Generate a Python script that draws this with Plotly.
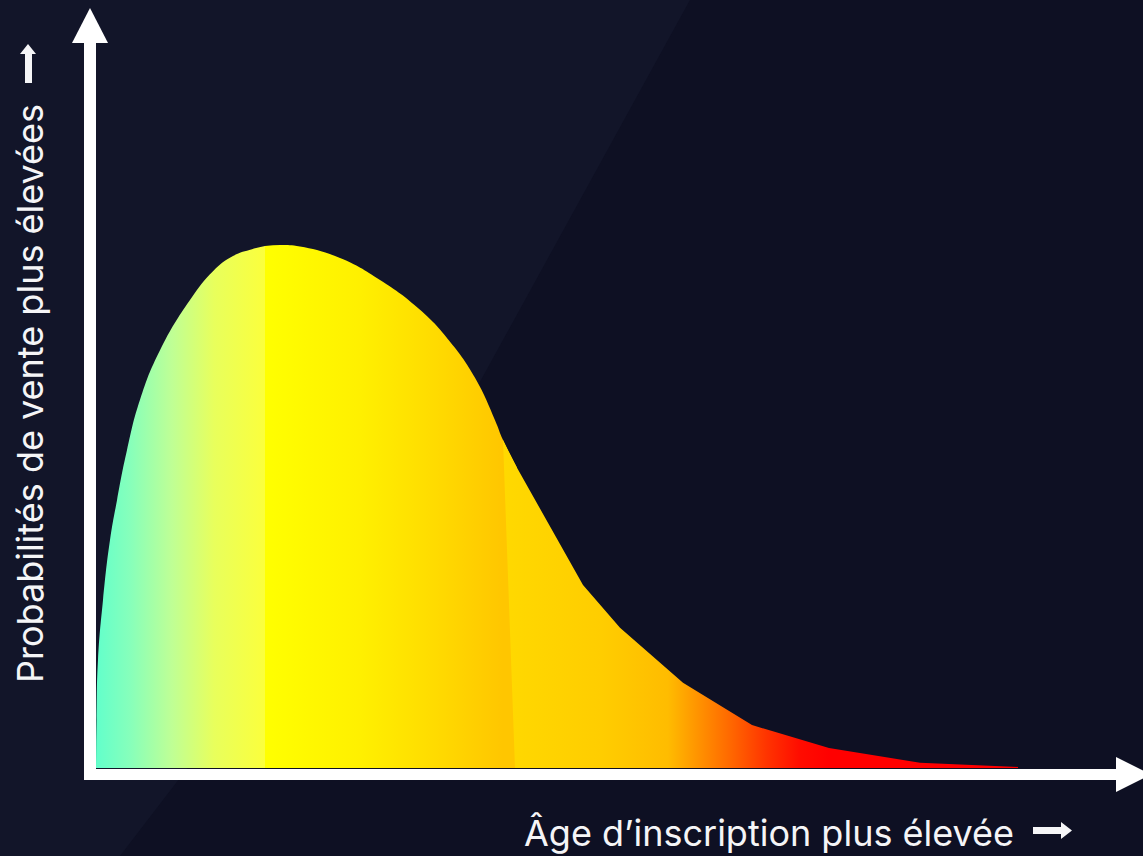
import plotly.graph_objects as go

W, H = 1143, 856
BG = "#0e1023"
BG_LIGHT = "#121529"
FG = "#f5f5f7"

# ---- data (conceptual curve: age of listing vs. probability of sale) ----
age = [0, 0.05, 0.2, 0.7, 1.4, 2.1, 3.1, 4.4, 6.4, 9.4, 11.7, 13.7, 15.6, 16.9, 18.5,
       20.4, 24.4, 28.4, 32.4, 35.4, 37.9, 39.9, 40.7, 42.1, 48.7, 52.4, 58.7,
       65.6, 73.3, 82.4, 92.2]
prob = [0, 9.2, 20.7, 32.1, 43.6, 51.2, 60.8, 70.4, 79.9, 89.5, 95.0, 97.9, 99.2, 99.8, 100,
        99.7, 97.5, 93.3, 87.6, 81.5, 74.6, 66.5, 62.7, 57.4, 35.0, 26.8, 16.3,
        8.2, 3.8, 1.0, 0.2]
seam_a = 16.9          # colour change between first and second segment
seam_b_top = 40.7      # top of the slanted seam
seam_b_bottom = 41.9   # bottom of the slanted seam

x_title = "Âge d’inscription plus élevée"
y_title = "Probabilités de vente plus élevées"

# gradients
grad1 = [[0, "#62ffcb"], [0.2, "#86ffbb"], [0.45, "#bfff95"], [0.7, "#e8ff5c"], [1, "#fbff3c"]]
grad2 = [[0, "#ffff00"], [0.4, "#fff000"], [0.7, "#ffdc00"], [1, "#ffc600"]]
grad3 = [[0, "#ffd900"], [0.19, "#ffcd00"], [0.32, "#ffbc00"], [0.383, "#ff9000"],
         [0.447, "#ff6400"], [0.513, "#ff3300"], [0.577, "#ff0c00"], [0.635, "#ff0000"],
         [1, "#ff0000"]]

# ---- split into segments ----
i_a = age.index(seam_a)
i_b = age.index(seam_b_top)

x1, y1 = age[:i_a + 1], prob[:i_a + 1]
x2, y2 = age[i_a:i_b + 2], prob[i_a:i_b + 2]
x3 = age[i_b:] + [age[-1], seam_b_bottom, age[i_b]]
y3 = prob[i_b:] + [0, 0, prob[i_b]]

fig = go.Figure()
fig.add_trace(go.Scatter(
    x=x1, y=y1, mode="lines", line=dict(width=0, shape="spline", smoothing=1.3),
    fill="tozeroy",
    fillgradient=dict(type="horizontal", colorscale=grad1, start=age[0], stop=seam_a),
    hoverinfo="skip", showlegend=False))
fig.add_trace(go.Scatter(
    x=x2, y=y2, mode="lines", line=dict(width=0, shape="spline", smoothing=1.3),
    fill="tozeroy",
    fillgradient=dict(type="horizontal", colorscale=grad2, start=seam_a, stop=seam_b_top),
    hoverinfo="skip", showlegend=False))
fig.add_trace(go.Scatter(
    x=x3, y=y3, mode="lines", line=dict(width=0),
    fill="toself",
    fillgradient=dict(type="horizontal", colorscale=grad3, start=seam_b_top, stop=age[-1]),
    hoverinfo="skip", showlegend=False))


def P(px, py):
    return px / W, 1 - py / H


def path(points):
    s = ""
    for k, (px, py) in enumerate(points):
        x, y = P(px, py)
        s += ("M" if k == 0 else "L") + f"{x:.5f},{y:.5f} "
    return s + "Z"


shapes = []
# background lighter panel
shapes.append(dict(type="path", xref="paper", yref="paper", layer="below",
                   path=path([(0, 0), (690, 0), (470, 400), (120, 856), (0, 856)]),
                   fillcolor=BG_LIGHT, line=dict(width=0)))
# y axis with arrow
shapes.append(dict(type="path", xref="paper", yref="paper", layer="above",
                   path=path([(84, 42), (96, 42), (96, 780), (84, 780)]),
                   fillcolor="#ffffff", line=dict(width=0)))
shapes.append(dict(type="path", xref="paper", yref="paper", layer="above",
                   path=path([(72, 43), (90, 8), (108, 43)]),
                   fillcolor="#ffffff", line=dict(width=0)))
# x axis with arrow
shapes.append(dict(type="path", xref="paper", yref="paper", layer="above",
                   path=path([(84, 769), (1118, 769), (1118, 780), (84, 780)]),
                   fillcolor="#ffffff", line=dict(width=0)))
shapes.append(dict(type="path", xref="paper", yref="paper", layer="above",
                   path=path([(1116, 757), (1151, 774.5), (1116, 792)]),
                   fillcolor="#ffffff", line=dict(width=0)))
# small arrow after y title
shapes.append(dict(type="path", xref="paper", yref="paper", layer="above",
                   path=path([(25, 83), (25, 54), (20, 54), (28, 44), (36, 54), (32, 54), (32, 83)]),
                   fillcolor=FG, line=dict(width=0)))
# small arrow after x title
shapes.append(dict(type="path", xref="paper", yref="paper", layer="above",
                   path=path([(1033, 827), (1061, 827), (1061, 822), (1072, 830.5),
                              (1061, 839), (1061, 834), (1033, 834)]),
                   fillcolor=FG, line=dict(width=0)))

ax_x, ax_y = P(1016, 833)
ay_x, ay_y = P(30, 394)
annotations = [
    dict(text=x_title, xref="paper", yref="paper", x=ax_x, y=ax_y,
         xanchor="right", yanchor="middle", showarrow=False,
         font=dict(family="Inter", size=36, color=FG)),
    dict(text=y_title, xref="paper", yref="paper", x=ay_x, y=ay_y,
         xanchor="center", yanchor="middle", showarrow=False, textangle=-90,
         font=dict(family="Inter", size=36, color=FG)),
]

fig.update_layout(
    width=W, height=H,
    margin=dict(l=0, r=0, t=0, b=0),
    paper_bgcolor=BG, plot_bgcolor="rgba(0,0,0,0)",
    xaxis=dict(range=[-9.6, 104.7], visible=False, domain=[0, 1], fixedrange=True),
    yaxis=dict(range=[-16.83, 146.85], visible=False, domain=[0, 1], fixedrange=True),
    shapes=shapes, annotations=annotations, showlegend=False,
)

fig.write_html("out.html", config={"displayModeBar": False},
               post_script="document.body.style.margin='0';document.body.style.overflow='hidden';")
